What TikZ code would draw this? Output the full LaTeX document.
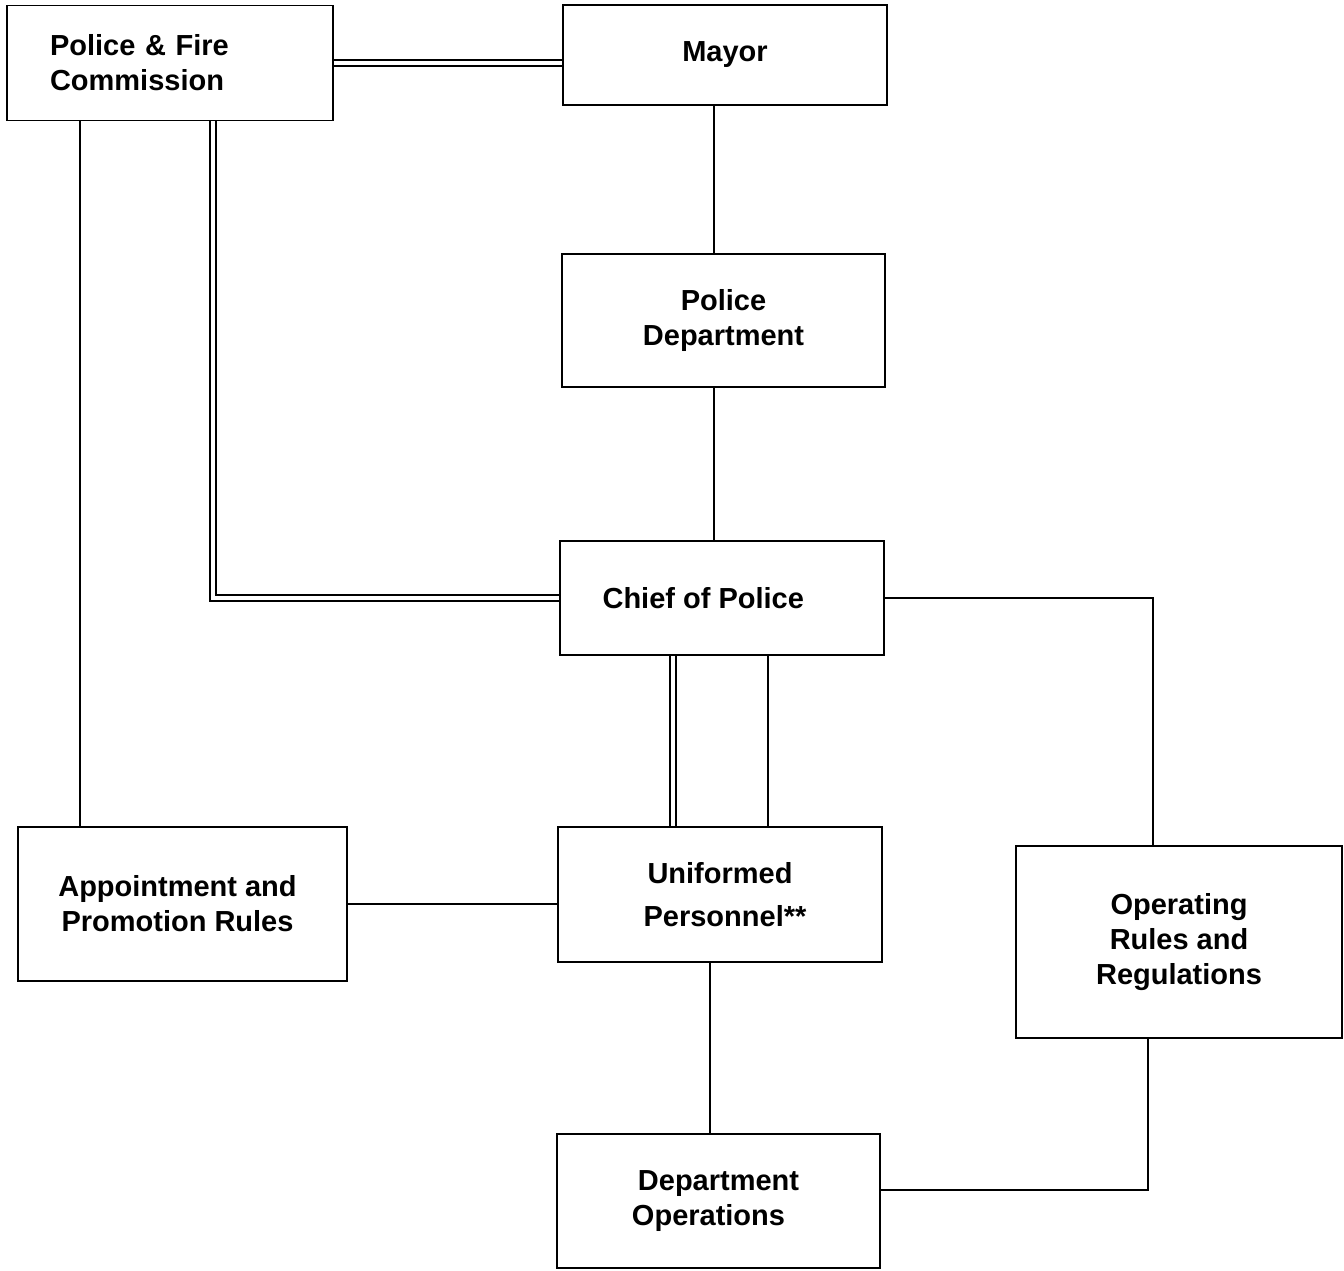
\documentclass[tikz,border=0pt]{standalone}
\usepackage{fontspec}
\setmainfont{Liberation Sans}
\usetikzlibrary{positioning}

\tikzset{
  orgbox/.style={draw, line width=1.1pt, align=center, inner sep=0pt,
    font=\bfseries\fontsize{16.5}{19.8}\selectfont},
  link/.style={line width=1pt},
  dbllink/.style={line width=1.2pt, double, double distance=2.2pt}
}

\begin{document}
\begin{tikzpicture}[x=0.02cm,y=-0.02cm]
   \useasboundingbox (0,0) rectangle (1344,1270);

   % boxes
   \node[orgbox, align=left, text width=4.8cm, minimum height=2.3cm, inner xsep=0.86cm] (pfc) at (170,63) {Police \& Fire\\Commission};
   \node[orgbox, minimum width=6.48cm, minimum height=2.0cm] (mayor) at (725,55) {Mayor};
   \node[orgbox, minimum width=6.46cm, minimum height=2.66cm] (pd) at (723.5,320.5) {Police\\Department};
   \node[orgbox, minimum width=6.48cm, minimum height=2.28cm] (chief) at (722,598) {Chief of Police\hspace*{0.75cm}};
   \node[orgbox, minimum width=6.58cm, minimum height=3.08cm] (apr) at (182.5,904) {Appointment and\hspace*{0.2cm}\\Promotion Rules\hspace*{0.2cm}};
   \node[orgbox, minimum width=6.48cm, minimum height=2.7cm] (unif) at (720,894.5) {Uniformed\\[5pt]\hspace*{0.2cm}Personnel**};
   \node[orgbox, minimum width=6.52cm, minimum height=3.84cm] (orr) at (1179,942) {Operating\\Rules and\\Regulations};
   \node[orgbox, minimum width=6.46cm, minimum height=2.68cm] (dops) at (718.5,1201) {Department\\Operations\hspace*{0.4cm}};

   % x positions of the vertical runs
   \coordinate (xa) at (80,0);
   \coordinate (xb) at (213,0);
   \coordinate (xc) at (714,0);
   \coordinate (xd) at (673,0);
   \coordinate (xe) at (768,0);
   \coordinate (xf) at (710,0);
   \coordinate (xg) at (1153,0);
   \coordinate (xh) at (1148,0);
   \coordinate (yops) at (0,1190);

   % connectors
   \draw[dbllink] (pfc.east) -- (pfc.east -| mayor.west);
   \draw[dbllink] (pfc.south -| xb) |- (chief.west);
   \draw[link] (pfc.south -| xa) -- (apr.north -| xa);
   \draw[link] (mayor.south -| xc) -- (pd.north -| xc);
   \draw[link] (pd.south -| xc) -- (chief.north -| xc);
   \draw[dbllink] (chief.south -| xd) -- (unif.north -| xd);
   \draw[link] (chief.south -| xe) -- (unif.north -| xe);
   \draw[link] (chief.east) -| (orr.north -| xg);
   \draw[link] (apr.east) -- (apr.east -| unif.west);
   \draw[link] (unif.south -| xf) -- (dops.north -| xf);
   \draw[link] (dops.east |- yops) -| (orr.south -| xh);
\end{tikzpicture}
\end{document}
